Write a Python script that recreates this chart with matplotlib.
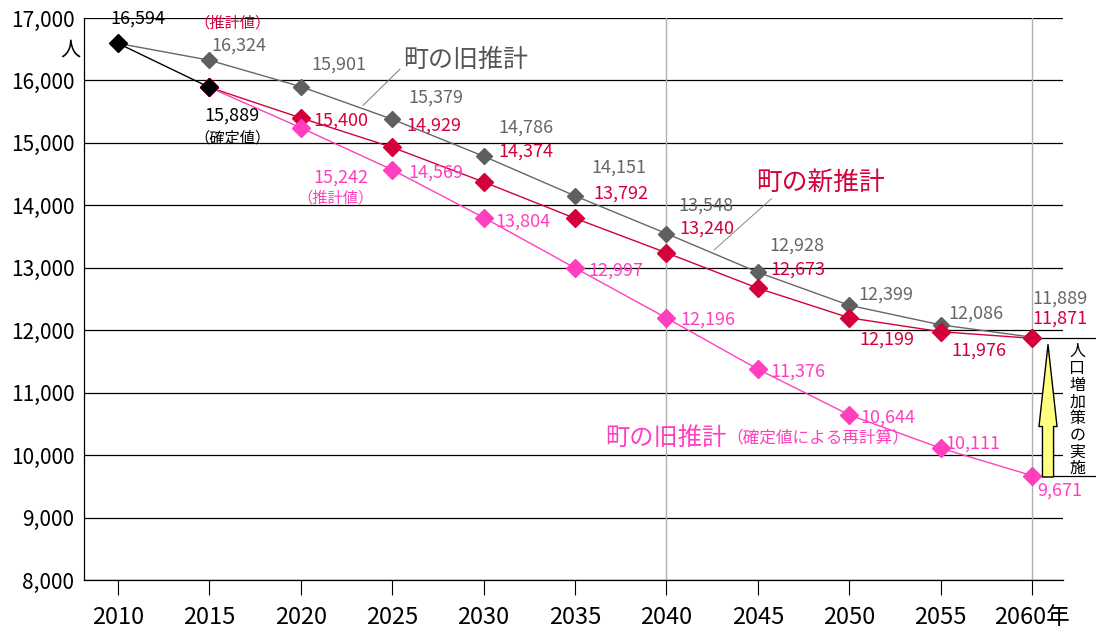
import matplotlib

matplotlib.use("Agg")
import matplotlib.pyplot as plt

plt.rcParams["font.family"] = ["Noto Sans CJK JP", "DejaVu Sans"]

years = [2010, 2015, 2020, 2025, 2030, 2035, 2040, 2045, 2050, 2055, 2060]
year_labels = ["2010", "2015", "2020", "2025", "2030", "2035", "2040", "2045", "2050", "2055", "2060年"]

actual_years = [2010, 2015]
actual = [16594, 15889]

old_est = [16594, 16324, 15901, 15379, 14786, 14151, 13548, 12928, 12399, 12086, 11889]
new_years = years[1:]
new_est = [15889, 15400, 14929, 14374, 13792, 13240, 12673, 12199, 11976, 11871]
recalc_est = [15889, 15242, 14569, 13804, 12997, 12196, 11376, 10644, 10111, 9671]

GRAY = "#666666"
RED = "#d4003a"
PINK = "#ff3fbe"

# label offsets in pixels (dx, dy), dy positive = up
old_off = [None, (29, 15), (38, 22), (44, 22), (42, 29), (44, 28), (39, 28), (39, 27), (37, 11), (35, 11), (28, 39)]
new_off = [None, (40, -3), (42, 22), (42, 30), (46, 25), (40, 24), (40, 19), (38, -22), (38, -19), (28, 20)]
recalc_off = [None, (40, -50), (44, -3), (39, -4), (41, -3), (41, -2), (40, -2), (39, -3), (32, 5), (28, -15)]

fig = plt.figure(figsize=(10.96, 6.29), dpi=100)
ax = fig.add_axes([84 / 1096, 1 - 580 / 629, (1063 - 84) / 1096, (580 - 18) / 629])

ax.set_xlim(2008.14, 2061.69)
ax.set_ylim(8000, 17000)

for v in range(8000, 17001, 1000):
    ax.axhline(v, color="black", lw=0.9, zorder=1)
for yv in (2040, 2060):
    ax.axvline(yv, color="#b0b0b0", lw=1.0, zorder=1)

ax.plot(years, old_est, color=GRAY, lw=1.0, marker="D", ms=8.5, mfc="#5f5f5f", mec="#5f5f5f", zorder=3)
ax.plot(new_years, new_est, color=RED, lw=1.0, marker="D", ms=9.5, mfc=RED, mec=RED, zorder=4)
ax.plot(new_years, recalc_est, color=PINK, lw=1.0, marker="D", ms=9.5, mfc=PINK, mec=PINK, zorder=4)
ax.plot(actual_years, actual, color="black", lw=1.0, marker="D", ms=9.5, mfc="black", mec="black", zorder=5)


def label(x, y, txt, off, color, size=13):
    ax.annotate(txt, xy=(x, y), xytext=off, textcoords="offset pixels",
                ha="center", va="center", color=color, fontsize=size, zorder=6)


for x, v, off in zip(years, old_est, old_off):
    if off is not None:
        label(x, v, f"{v:,}", off, GRAY)
for x, v, off in zip(new_years, new_est, new_off):
    if off is not None:
        label(x, v, f"{v:,}", off, RED)
for x, v, off in zip(new_years, recalc_est, recalc_off):
    if off is not None:
        label(x, v, f"{v:,}", off, PINK)

label(2010, actual[0], f"{actual[0]:,}", (20, 25), "black")
label(2015, actual[1], f"{actual[1]:,}", (23, -28), "black")
label(2015, actual[1], "（確定値）", (23, -51), "black", 11)
label(2015, actual[1], "（推計値）", (23, 64), RED, 11)
label(2020, recalc_est[1], "（推計値）", (35, -70), PINK, 11)

# series names with leader lines
ax.annotate("町の旧推計", xy=(2023.4, 15600), xytext=(2029.0, 16330),
            ha="center", va="center", fontsize=18, color="#555555",
            arrowprops=dict(arrowstyle="-", color="#777777", lw=0.7, shrinkA=0, shrinkB=0,
                            relpos=(0, 0.25)))
ax.annotate("町の新推計", xy=(2042.6, 13284), xytext=(2048.4, 14360),
            ha="center", va="center", fontsize=18.5, color=RED,
            arrowprops=dict(arrowstyle="-", color="#888888", lw=0.7, shrinkA=0, shrinkB=0,
                            relpos=(0.17, 0.1)))
t = ax.text(2036.65, 10280, "町の旧推計", ha="left", va="center", fontsize=17.5, color=PINK)
ax.annotate("（確定値による再計算）", xy=(1, 0.15), xycoords=t, ha="left", va="bottom",
            fontsize=12, color=PINK)

# policy arrow
ax.annotate("", xy=(2060.87, 11770), xytext=(2060.87, 9650),
            arrowprops=dict(arrowstyle="simple,head_length=59,head_width=13,tail_width=8",
                            mutation_scale=1, fc="#ffff80", ec="black", lw=1.0,
                            shrinkA=0, shrinkB=0), annotation_clip=False, zorder=6)
ax.hlines([new_est[-1], recalc_est[-1]], 0.971, 1.034, transform=ax.get_yaxis_transform(),
          color="black", lw=0.9, clip_on=False)
ax.text(1.0145, 10720, "\n".join("人口増加策の実施"), transform=ax.get_yaxis_transform(),
        ha="center", va="center", fontsize=11.5, linespacing=0.98, color="black")

ax.text(-0.004, 16490, "人", transform=ax.get_yaxis_transform(), ha="right", va="center",
        fontsize=14.5)

ax.set_yticks(range(8000, 17001, 1000))
ax.set_yticklabels([f"{v:,}" for v in range(8000, 17001, 1000)], fontsize=15)
ax.set_xticks(years)
ax.set_xticklabels(year_labels, fontsize=17)
ax.tick_params(axis="y", length=0, pad=7)
ax.tick_params(axis="x", direction="out", length=11, width=0.8, pad=8)

for s in ("top", "right"):
    ax.spines[s].set_visible(False)
ax.spines["left"].set_linewidth(0.9)
ax.spines["bottom"].set_linewidth(0.9)

fig.savefig("out.png", dpi=100)
